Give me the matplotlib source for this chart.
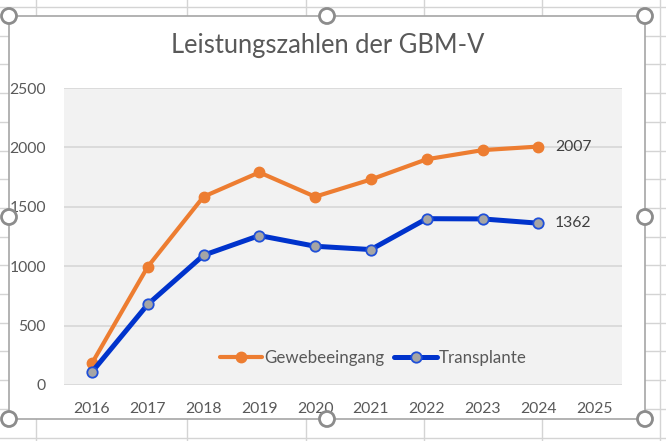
import matplotlib
matplotlib.use('Agg')
import matplotlib.pyplot as plt
from matplotlib.patches import Rectangle, Ellipse
from matplotlib.lines import Line2D
import numpy as np

plt.rcParams['font.family'] = ['Lato', 'DejaVu Sans']

# data
years = ['2016', '2017', '2018', '2019', '2020', '2021', '2022', '2023', '2024', '2025']
gewebeeingang = [182, 995, 1585, 1790, 1585, 1730, 1900, 1977, 2007]
transplante = [109, 678, 1092, 1258, 1168, 1140, 1400, 1398, 1362]
yticks = [0, 500, 1000, 1500, 2000, 2500]

orange = '#ED7D31'
blue = '#0033CC'
text_col = '#595959'

W, H = 666, 441
fig = plt.figure(figsize=(W / 100, H / 100), dpi=100)
fig.patch.set_facecolor('white')

# spreadsheet cell lines behind the chart
for x in [36, 187, 306, 424, 542, 660]:
    fig.add_artist(Line2D([x / W, x / W], [0, 1], color='#D4D4D4', lw=1, zorder=0))
for y in np.arange(7, H, 28.7):
    fig.add_artist(Line2D([0, 1], [1 - y / H, 1 - y / H], color='#D4D4D4', lw=1, zorder=0))

# chart area
x0, y0, x1, y1 = 9, 16, 645, 419
fig.add_artist(Rectangle((x0 / W, 1 - y1 / H), (x1 - x0) / W, (y1 - y0) / H,
                         facecolor='white', edgecolor='#A6A6A6', lw=1.2, zorder=1))

ax = fig.add_axes([64 / W, 1 - 385 / H, 558 / W, 297 / H])
ax.set_zorder(2)
ax.set_facecolor('#F2F2F2')

xi = np.arange(len(gewebeeingang))
ax.plot(xi, gewebeeingang, color=orange, lw=3, marker='o', ms=7.5,
        mfc=orange, mec=orange, label='Gewebeeingang', solid_capstyle='round', zorder=3)
ax.plot(xi, transplante, color=blue, lw=3.6, marker='o', ms=7.5,
        mfc='#A5A5A5', mec='#1F4FD8', mew=1.3, label='Transplante', solid_capstyle='round', zorder=3)

ax.annotate(str(gewebeeingang[-1]), (xi[-1], gewebeeingang[-1]), xytext=(12, 0),
            textcoords='offset points', va='center', ha='left', fontsize=11.3, color='#404040')
ax.annotate(str(transplante[-1]), (xi[-1], transplante[-1]), xytext=(12, 0),
            textcoords='offset points', va='center', ha='left', fontsize=11.3, color='#404040')

ax.set_xlim(-0.5, len(years) - 0.5)
ax.set_ylim(0, 2500)
ax.set_xticks(np.arange(len(years)))
ax.set_xticklabels(years)
ax.set_yticks(yticks)
ax.tick_params(axis='both', length=0, labelsize=11.3, labelcolor=text_col)
ax.tick_params(axis='y', pad=13)
ax.tick_params(axis='x', pad=12)
ax.grid(axis='y', color='#D9D9D9', lw=1.3)
ax.set_axisbelow(True)
for s in ax.spines.values():
    s.set_visible(False)

ax.legend(loc='center', bbox_to_anchor=(0.554, 0.091), ncol=2, frameon=False,
          fontsize=12.2, labelcolor=text_col, handlelength=2.5, handletextpad=0.1,
          columnspacing=0.6)

fig.text(328 / W, 1 - 45 / H, 'Leistungszahlen der GBM-V', ha='center', va='center',
         fontsize=18.4, color=text_col)

# selection handles
for hx, hy in [(x0, y0), (327, y0), (x1, y0), (x0, 217), (x1, 217),
               (x0, y1), (327, y1), (x1, y1)]:
    fig.add_artist(Ellipse((hx / W, 1 - hy / H), 15 / W, 15 / H, transform=fig.transFigure,
                           facecolor='white', edgecolor='#8C8C8C', lw=2, zorder=5))

fig.savefig('out.png', dpi=100)
